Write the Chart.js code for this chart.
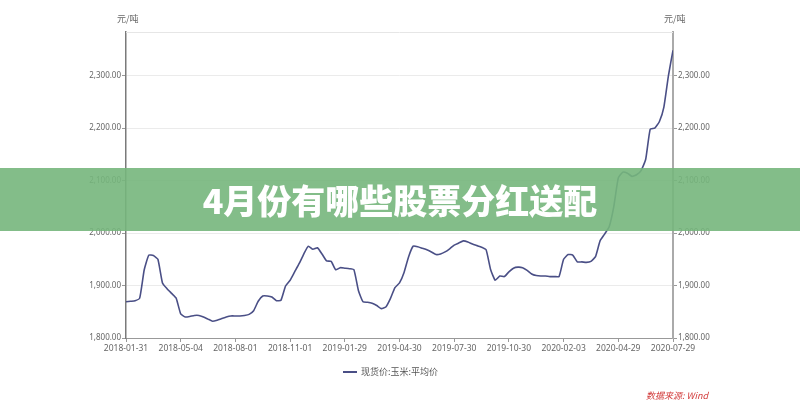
<!DOCTYPE html>
<html><head><meta charset="utf-8">
<script src="https://cdn.jsdelivr.net/npm/chart.js@4/dist/chart.umd.min.js"></script>
<style>
html,body{margin:0;padding:0;background:#fff;}
#wrap{position:relative;width:800px;height:400px;overflow:hidden;font-family:"Noto Sans CJK SC","Noto Sans",sans-serif;}
canvas{position:absolute;left:0;top:0;}
.unit{position:absolute;top:12px;font-size:9px;color:#666;}
#legend{position:absolute;left:343px;top:365px;font-size:9px;color:#555;display:flex;align-items:center;white-space:nowrap;}
#legend span.sw{display:inline-block;width:14px;height:2px;background:#4a4f86;margin-right:4px;}
#src{position:absolute;left:646px;top:389px;font-size:9px;color:#d23c3c;font-style:italic;white-space:nowrap;}
#banner{position:absolute;left:0;top:168px;width:800px;height:63px;background:rgba(118,182,124,0.9);}
#title{position:absolute;left:0;top:168px;width:800px;height:63px;line-height:63px;text-align:center;color:#fff;font-weight:900;font-size:34px;}
</style></head>
<body><div id="wrap">
<canvas id="c" width="800" height="400"></canvas>
<div class="unit" style="left:117px">元/吨</div>
<div class="unit" style="left:664px">元/吨</div>
<div id="legend"><span class="sw"></span>现货价:玉米:平均价</div>
<div id="src">数据来源: Wind</div>
<div id="banner"></div>
<div id="title">4月份有哪些股票分红送配</div>
</div>
<script>
const tickLabels = ["2018-01-31","2018-05-04","2018-08-01","2018-11-01","2019-01-29","2019-04-30","2019-07-30","2019-10-30","2020-02-03","2020-04-29","2020-07-29"];
const seriesName = "现货价:玉米:平均价";
const prices = [
1869,1870,1871,1876,1930,1958,1957,1950,1905,1894,1885,1876,
1846,1840,1841,1843,1843,1840,1836,1832,1834,1837,1840,1842,
1842,1842,1843,1845,1852,1870,1880,1880,1878,1871,1872,1899,
1910,1926,1942,1960,1975,1969,1972,1960,1947,1946,1930,1934,
1933,1932,1930,1890,1869,1868,1866,1862,1856,1859,1875,1896,
1905,1925,1955,1975,1974,1971,1968,1964,1959,1960,1964,1970,
1977,1981,1985,1983,1979,1976,1973,1968,1930,1910,1918,1917,
1926,1933,1935,1934,1929,1922,1919,1918,1918,1917,1917,1917,
1950,1959,1958,1945,1945,1944,1946,1955,1985,1998,2012,2050,
2105,2116,2114,2108,2111,2119,2140,2198,2200,2212,2240,2300,
2348
];
const pointsPerTick = 12;
const yMin = 1800, yMax = 2383, yStep = 100;

const fmt = v => v.toLocaleString('en-US',{minimumFractionDigits:2,maximumFractionDigits:2});
const keepSteps = s => { s.ticks = s.ticks.filter(t => Math.abs(t.value % yStep) < 1e-6); };

const topLine = {
  id:'topLine',
  beforeDatasetsDraw(chart){
    const {ctx, chartArea:a} = chart;
    ctx.save(); ctx.strokeStyle='#e6e6e6'; ctx.lineWidth=1;
    ctx.beginPath(); ctx.moveTo(a.left, a.top+0.5); ctx.lineTo(a.right, a.top+0.5); ctx.stroke();
    ctx.restore();
  }
};

new Chart(document.getElementById('c'), {
  type:'line',
  data:{ datasets:[{
    label: seriesName,
    data: prices.map((v,i)=>({x:i,y:v})),
    borderColor:'#4a4f86', borderWidth:1.6, pointRadius:0, tension:0.15, fill:false, yAxisID:'y'
  }]},
  options:{
    responsive:false, animation:false, devicePixelRatio:1,
    layout:{padding:{top:32,left:0,right:0,bottom:0}},
    plugins:{legend:{display:false}, tooltip:{enabled:false}},
    scales:{
      x:{ type:'linear', min:0, max:(tickLabels.length-1)*pointsPerTick,
        afterBuildTicks(s){ s.ticks = tickLabels.map((l,i)=>({value:i*pointsPerTick})); },
        afterFit(s){ s.height = 62; },
        grid:{display:true, drawOnChartArea:false, drawTicks:true, tickLength:4, color:'#999'},
        border:{display:true, color:'#999', width:1},
        ticks:{ autoSkip:false, maxRotation:0, padding:1, color:'#666', font:{size:8.5, family:'"Noto Sans", sans-serif'},
          callback:(v)=> tickLabels[Math.round(v/pointsPerTick)] }
      },
      y:{ position:'left', min:yMin, max:yMax,
        afterBuildTicks: keepSteps,
        afterFit(s){ s.width = 126; },
        grid:{color:'#ebebeb', tickLength:4, tickColor:'#999'},
        border:{display:true, color:'#7a7a7a', width:1.5},
        ticks:{ stepSize:yStep, padding:1, color:'#666', font:{size:8, family:'"Noto Sans", sans-serif'}, callback:fmt }
      },
      y2:{ position:'right', min:yMin, max:yMax,
        afterBuildTicks: keepSteps,
        afterFit(s){ s.width = 127; },
        grid:{drawOnChartArea:false, tickLength:4, tickColor:'#999'},
        border:{display:true, color:'#aaa', width:2},
        ticks:{ stepSize:yStep, padding:1, color:'#666', font:{size:8, family:'"Noto Sans", sans-serif'}, callback:fmt }
      }
    }
  },
  plugins:[topLine]
});
</script>
</body></html>
